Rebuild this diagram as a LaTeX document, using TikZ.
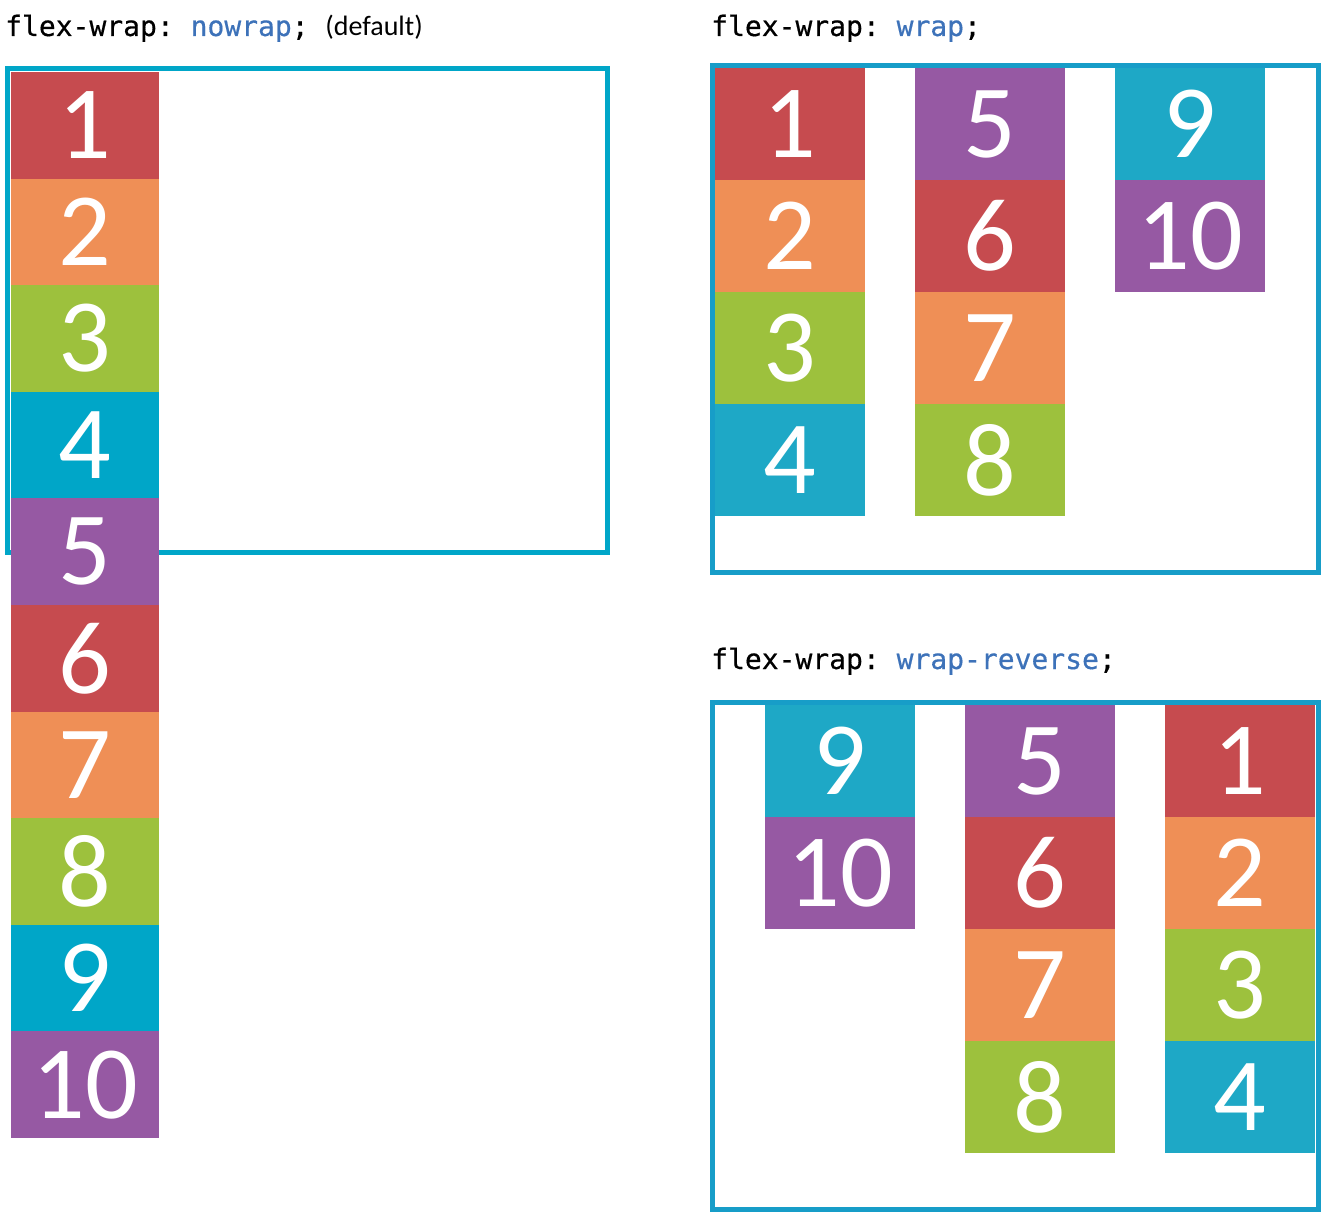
\documentclass[tikz,border=0pt]{standalone}
\usepackage{fontspec}
\setmainfont{Carlito}
\setmonofont[FakeBold=0.5]{DejaVu Sans Mono}
\usepackage{xcolor}
\usepackage{tikz}
\usetikzlibrary{positioning}
\definecolor{red1}{HTML}{C64B4F}
\definecolor{orange1}{HTML}{EF8F56}
\definecolor{green1}{HTML}{9DC13D}
\definecolor{blue1}{HTML}{00A6C8}
\definecolor{blue2}{HTML}{1EA8C6}
\definecolor{purple1}{HTML}{9659A3}
\definecolor{frame1}{HTML}{179DC8}
\definecolor{kw1}{HTML}{3D72B9}

\begin{document}
\begin{tikzpicture}[
    x=1pt, y=-1pt,
    item/.style={inner sep=0pt, outer sep=0pt, text=white,
                 minimum width=150pt, minimum height=112pt,
                 font=\fontsize{104}{104}\selectfont},
    small/.style={minimum width=148pt, minimum height=106.6pt},
    box/.style={draw=frame1, line width=5pt, inner sep=0pt, outer sep=0pt,
                minimum width=605.5pt, minimum height=507pt},
    title/.style={anchor=base west, inner sep=0pt,
                  font=\fontsize{28}{28}\selectfont},
]
\useasboundingbox (0,0) rectangle (1321,1225);

% ── nowrap ──
\node[title] (t1) at (5,36)
    {\texttt{flex-wrap: \textcolor{kw1}{nowrap}; }(default)};
\node[box, draw=blue1, minimum width=600pt, minimum height=484pt]
    (nowrapbox) at (307.5,310.5) {};

\node[item, small, fill=red1] (l1) at (85,125.3) {1};
\node[item, small, fill=orange1, below=0pt of l1] (l2) {2};
\node[item, small, fill=green1, below=0pt of l2] (l3) {3};
\node[item, small, fill=blue1, below=0pt of l3] (l4) {4};
\node[item, small, fill=purple1, below=0pt of l4] (l5) {5};
\node[item, small, fill=red1, below=0pt of l5] (l6) {6};
\node[item, small, fill=orange1, below=0pt of l6] (l7) {7};
\node[item, small, fill=green1, below=0pt of l7] (l8) {8};
\node[item, small, fill=blue1, below=0pt of l8] (l9) {9};
\node[item, small, fill=purple1, below=0pt of l9] (l10) {10};

% ── wrap ──
\node[title] (t2) at (711,36)
    {\texttt{flex-wrap: \textcolor{kw1}{wrap};}};
\node[box] (wrapbox) at (1015.25,319) {};

\node[item, fill=red1] (w1) at (790,124) {1};
\node[item, fill=orange1, below=0pt of w1] (w2) {2};
\node[item, fill=green1, below=0pt of w2] (w3) {3};
\node[item, fill=blue2, below=0pt of w3] (w4) {4};
\node[item, fill=purple1, right=50pt of w1] (w5) {5};
\node[item, fill=red1, below=0pt of w5] (w6) {6};
\node[item, fill=orange1, below=0pt of w6] (w7) {7};
\node[item, fill=green1, below=0pt of w7] (w8) {8};
\node[item, fill=blue2, right=50pt of w5] (w9) {9};
\node[item, fill=purple1, below=0pt of w9] (w10) {10};

% ── wrap-reverse ──
\node[title] (t3) at (711,669)
    {\texttt{flex-wrap: \textcolor{kw1}{wrap-reverse};}};
\node[box] (revbox) at (1015.25,956) {};

\node[item, fill=red1] (r1) at (1240,761) {1};
\node[item, fill=orange1, below=0pt of r1] (r2) {2};
\node[item, fill=green1, below=0pt of r2] (r3) {3};
\node[item, fill=blue2, below=0pt of r3] (r4) {4};
\node[item, fill=purple1, left=50pt of r1] (r5) {5};
\node[item, fill=red1, below=0pt of r5] (r6) {6};
\node[item, fill=orange1, below=0pt of r6] (r7) {7};
\node[item, fill=green1, below=0pt of r7] (r8) {8};
\node[item, fill=blue2, left=50pt of r5] (r9) {9};
\node[item, fill=purple1, below=0pt of r9] (r10) {10};

\end{tikzpicture}
\end{document}
